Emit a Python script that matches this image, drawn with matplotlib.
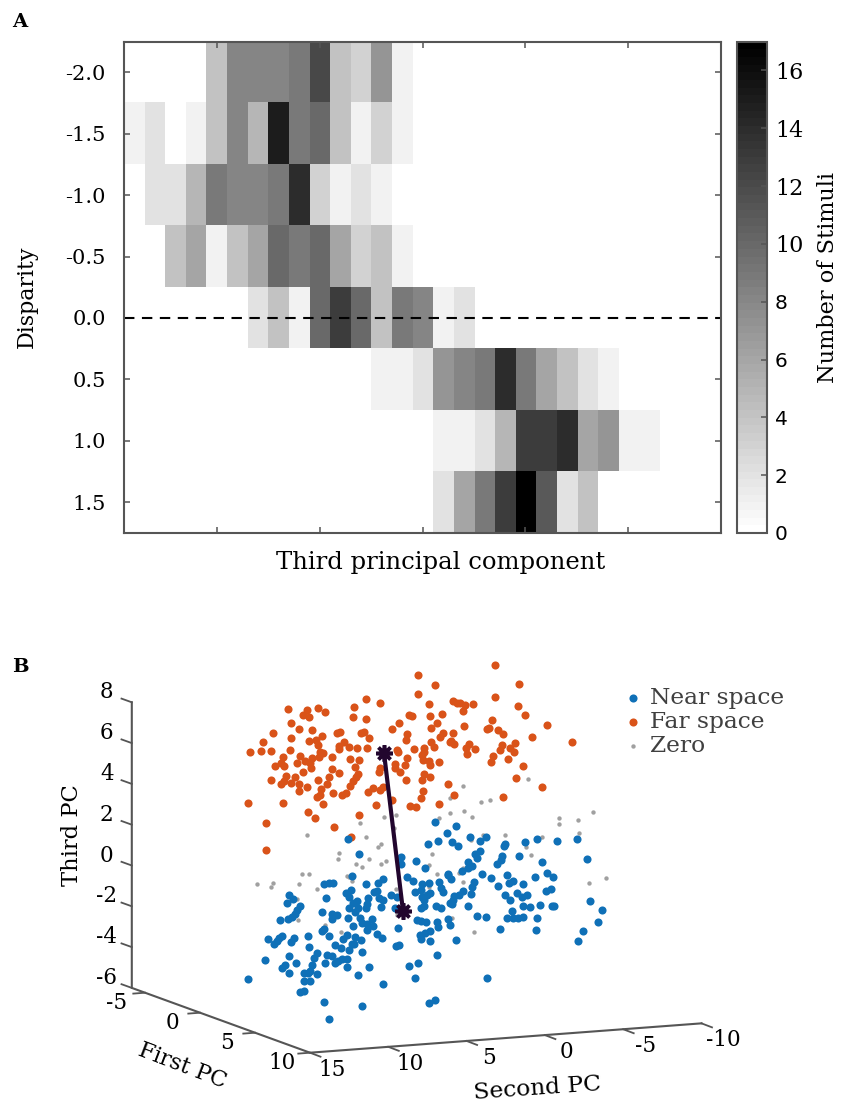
import matplotlib
matplotlib.use('Agg')
import matplotlib.pyplot as plt
import numpy as np

SERIF = 'DejaVu Serif'
LINE = '#555555'

# Panel A: number of stimuli per (disparity, third PC bin)
disparity = [-2.0, -1.5, -1.0, -0.5, 0.0, 0.5, 1.0, 1.5]
n_stimuli = [
    [0, 0, 0, 0, 4, 8, 8, 8, 9, 12, 4, 3, 7, 1, 0, 0, 0, 0, 0, 0, 0, 0, 0, 0, 0, 0, 0, 0, 0],
    [1, 2, 0, 1, 4, 8, 5, 15, 9, 10, 4, 1, 3, 1, 0, 0, 0, 0, 0, 0, 0, 0, 0, 0, 0, 0, 0, 0, 0],
    [0, 2, 2, 5, 9, 8, 8, 9, 14, 3, 1, 2, 1, 0, 0, 0, 0, 0, 0, 0, 0, 0, 0, 0, 0, 0, 0, 0, 0],
    [0, 0, 4, 6, 1, 4, 6, 10, 9, 10, 6, 3, 4, 1, 0, 0, 0, 0, 0, 0, 0, 0, 0, 0, 0, 0, 0, 0, 0],
    [0, 0, 0, 0, 0, 0, 2, 4, 1, 10, 13, 10, 4, 9, 8, 1, 2, 0, 0, 0, 0, 0, 0, 0, 0, 0, 0, 0, 0],
    [0, 0, 0, 0, 0, 0, 0, 0, 0, 0, 0, 0, 1, 1, 2, 7, 8, 9, 14, 9, 6, 4, 2, 1, 0, 0, 0, 0, 0],
    [0, 0, 0, 0, 0, 0, 0, 0, 0, 0, 0, 0, 0, 0, 0, 1, 1, 2, 5, 13, 13, 14, 6, 7, 1, 1, 0, 0, 0],
    [0, 0, 0, 0, 0, 0, 0, 0, 0, 0, 0, 0, 0, 0, 0, 2, 6, 9, 13, 17, 11, 2, 4, 0, 0, 0, 0, 0, 0],
]
cbar_ticks = [0, 2, 4, 6, 8, 10, 12, 14, 16]

# Panel B: axis ticks of the 3D box
first_ticks = [-5, 0, 5, 10]
second_ticks = [15, 10, 5, 0, -5, -10]
third_ticks = [-6, -4, -2, 0, 2, 4, 6, 8]

# Panel B: points as they land on the page after the 3D view (px)
far_pts = [
    (418,675),(435,685),(418,694),(366,699),(380,703),(429,704),(354,707),(288,709),(318,708),(307,710),
    (325,712),(303,715),(309,717),(353,717),(366,719),(409,715),(412,716),(430,716),(442,714),(291,723),
    (399,723),(437,723),(299,729),(392,729),(431,728),(273,733),(312,730),(337,733),(340,732),(361,733),
    (364,732),(407,734),(443,733),(440,737),(291,738),(322,736),(369,738),(406,740),(263,742),(309,741),
    (316,740),(318,745),(344,742),(431,742),(450,742),(339,746),(349,747),(367,748),(357,748),(339,749),
    (434,747),(424,748),(414,749),(250,752),(261,751),(271,751),(290,750),(320,752),(323,753),(397,750),
    (398,752),(422,755),(424,752),(332,757),(319,757),(300,756),(283,757),(312,758),(350,759),(359,760),
    (407,758),(423,760),(429,761),(439,762),(281,763),(275,766),(284,766),(297,763),(305,761),(310,763),
    (311,768),(405,765),(395,764),(430,765),(332,769),(355,767),(380,768),(395,768),(303,772),(339,773),
    (358,774),(379,772),(400,772),(424,774),(286,776),(295,777),(329,777),(356,777),(430,777),(271,780),
    (318,780),(406,780),(422,780),(284,781),(281,784),(291,783),(353,781),(299,784),(327,784),(350,786),
    (307,787),(448,784),(321,789),(373,788),(383,787),(380,790),(368,792),(299,791),(423,791),(333,793),
    (346,793),(342,795),(320,795),(317,797),(421,798),(248,803),(283,803),(323,804),(392,800),(376,805),
    (410,806),(416,807),(439,804),(308,812),(315,818),(359,815),(266,823),(334,827),(351,837),(266,850),
    (495,665),(519,684),(495,697),(453,701),(457,703),(460,703),(465,705),(473,704),(518,706),(463,711),
    (525,715),(492,720),(547,725),(464,726),(487,729),(489,728),(498,730),(503,734),(453,733),(532,737),
    (572,742),(515,743),(451,741),(454,744),(469,744),(466,748),(475,749),(502,745),(510,748),(500,750),
    (514,752),(467,754),(493,756),(491,762),(508,759),(523,766),(516,778),(542,787),(454,795),(503,797),
]
zero_pts = [
    (384,817),(396,815),(360,823),(307,835),(366,837),(381,844),(378,847),(439,818),(450,798),(450,813),
    (394,828),(528,779),(463,786),(490,800),(481,802),(464,811),(472,817),(593,812),(559,818),(559,824),
    (578,820),(579,833),(483,835),(505,835),(542,837),(471,840),(526,847),(339,853),(338,859),(356,864),
    (362,867),(369,859),(381,864),(386,861),(432,854),(429,865),(437,874),(302,874),(309,874),(273,883),
    (271,887),(257,884),(299,884),(317,889),(347,876),(349,877),(352,881),(297,899),(298,920),(325,925),
    (341,932),(396,889),(429,887),(397,915),(531,855),(459,873),(463,868),(463,882),(606,878),(589,883),
    (452,918),(474,932),
]
near_pts = [
    (348,839),(435,822),(447,833),(428,844),(438,841),(359,854),(401,857),(416,861),(425,868),(401,864),
    (352,876),(448,875),(407,877),(413,881),(383,879),(378,883),(366,884),(324,884),(329,883),(333,883),
    (429,883),(422,884),(439,882),(441,888),(443,892),(351,890),(346,893),(377,891),(374,892),(391,895),
    (415,892),(421,890),(430,893),(427,895),(289,895),(293,899),(326,898),(349,897),(368,898),(379,898),
    (383,900),(397,897),(422,897),(424,900),(357,901),(353,903),(287,903),(367,904),(366,908),(381,907),
    (424,906),(421,908),(436,906),(441,908),(450,903),(300,906),(297,910),(349,908),(358,908),(322,912),
    (295,914),(332,914),(337,915),(355,912),(395,908),(348,918),(332,919),(292,917),(288,919),(280,920),
    (360,918),(372,919),(362,923),(417,920),(421,921),(426,922),(437,922),(448,919),(438,927),(367,924),
    (373,926),(353,926),(398,928),(367,930),(430,931),(425,933),(420,935),(421,939),(430,941),(322,931),
    (324,929),(377,934),(382,938),(329,936),(308,936),(347,935),(355,937),(361,940),(343,939),(282,936),
    (279,938),(268,939),(277,941),(274,944),(294,938),(291,942),(309,947),(335,945),(341,948),(352,944),
    (349,950),(354,944),(396,946),(399,945),(362,952),(437,955),(317,953),(327,955),(332,956),(314,958),
    (289,956),(347,959),(342,959),(338,961),(335,963),(325,963),(265,960),(296,963),(312,965),(285,965),
    (282,968),(418,963),(409,966),(347,967),(369,967),(310,971),(289,973),(304,973),(317,974),(358,975),
    (415,978),(308,973),(248,979),(304,981),(310,981),(383,984),(300,992),(304,991),(324,1002),(362,1006),
    (429,1003),(435,1000),(329,1019),(456,826),(470,837),(486,837),(480,841),(452,842),(458,846),(505,844),
    (504,846),(525,842),(537,839),(557,841),(577,839),(480,851),(475,854),(477,858),(502,856),(501,860),
    (497,864),(519,856),(542,862),(587,859),(468,862),(472,866),(468,868),(462,871),(482,874),(507,875),
    (491,878),(448,874),(451,879),(547,873),(553,877),(535,877),(474,882),(472,887),(513,881),(509,883),
    (523,884),(498,886),(551,889),(546,891),(517,893),(527,895),(522,897),(505,895),(510,900),(463,891),
    (459,895),(454,896),(471,894),(453,900),(452,904),(590,901),(468,906),(523,906),(530,907),(540,905),
    (552,906),(554,906),(602,910),(512,911),(477,916),(486,917),(507,918),(513,918),(518,918),(523,917),
    (537,918),(598,922),(450,925),(500,929),(536,930),(583,931),(578,941),(456,940),(487,978),
]
mean_x = [384, 403]
mean_y = [753, 911]


def project(first, second, third):
    """ Linear page position (px) of a point of the 3D box """
    x = 310 + (first - 10) * 11 - (second - 15) * 15.66
    y = 1052.7 + (first - 10) * 4 + (second - 15) * 1.174 - (third + 6) * 20.4
    return x, y


fig = plt.figure(figsize=(8.42, 11.06), dpi=100)

# Panel A
ax = fig.add_axes([124 / 842, 1 - 533 / 1106, 597 / 842, 491.5 / 1106])
im = ax.imshow(n_stimuli, cmap=plt.get_cmap('gray_r', 64), vmin=0, vmax=17, aspect='auto',
               interpolation='nearest', extent=[-0.5, 28.5, 1.75, -2.25])
ax.axhline(0, color='black', lw=1.5, dashes=(5, 3.6))
ax.set_xticks([4, 9, 14, 19, 24])
ax.set_xticklabels([])
ax.set_yticks(disparity)
ax.set_yticklabels(['{:.1f}'.format(d) for d in disparity], fontname=SERIF, fontsize=15)
ax.tick_params(axis='both', direction='in', top=True, right=True, length=4.5, width=1.1,
               color=LINE, pad=13)
for s in ax.spines.values():
    s.set_color(LINE)
    s.set_linewidth(1.5)
fig.text(27 / 842, 1 - 297 / 1106, 'Disparity', rotation=90, ha='center', va='center',
         fontname=SERIF, fontsize=15.9)
fig.text(441 / 842, 1 - 563 / 1106, 'Third principal component', ha='center', va='center',
         fontname=SERIF, fontsize=17.5)

# Colorbar
cax = fig.add_axes([736.5 / 842, 1 - 533 / 1106, 30 / 842, 491.5 / 1106])
cb = fig.colorbar(im, cax=cax)
cb.set_ticks(cbar_ticks)
cb.outline.set_edgecolor(LINE)
cb.outline.set_linewidth(1.5)
cax.tick_params(direction='in', length=4.5, width=1.1, color=LINE, pad=6)
for t, v in zip(cax.get_yticklabels(), cbar_ticks):
    if v >= 10:
        t.set_fontname(SERIF)
        t.set_fontsize(16)
    else:
        t.set_fontname('DejaVu Sans')
        t.set_fontsize(14.5)
fig.text(828 / 842, 1 - 277 / 1106, 'Number of Stimuli', rotation=90, ha='center', va='center',
         fontname=SERIF, fontsize=16.2)

# Panel B, a 2D axes in page pixels with the box projected onto it
ax3 = fig.add_axes([0, 0, 1, 466 / 1106])
ax3.set_xlim(0, 842)
ax3.set_ylim(1106, 640)
ax3.axis('off')

x0, y0 = project(-6.2, 15, -6)
xc, yc = project(10, 15, -6)
x1, y1 = project(10, -10, -6)
x2, y2 = project(-6.2, 15, 8)
ax3.plot([x2, x0, xc, x1], [y2, y0, yc, y1], color=LINE, lw=1.5, solid_joinstyle='miter')

for v in third_ticks:
    x, y = project(-6.2, 15, v)
    ax3.plot([x, x - 10.3], [y, y - 3.7], color=LINE, lw=1.3)
    ax3.text(x - 25, y - 10, str(v), ha='center', va='center', fontname=SERIF, fontsize=15.5)
for v in first_ticks:
    x, y = project(v, 15, -6)
    ax3.plot([x, x - 11.7], [y, y + 0.9], color=LINE, lw=1.3)
    ax3.text(x - 28, y + 10, str(v), ha='center', va='center', fontname=SERIF, fontsize=15.5)
for v in second_ticks:
    x, y = project(10, v, -6)
    ax3.plot([x, x + 10.5], [y, y + 4], color=LINE, lw=1.3)
    ax3.text(x + 22, y + 17, str(v), ha='center', va='center', fontname=SERIF, fontsize=15.5)

ax3.text(72, 835, 'Third PC', rotation=90, ha='center', va='center', fontname=SERIF, fontsize=16.3)
ax3.text(182, 1066, 'First PC', rotation=-21, ha='center', va='center', fontname=SERIF,
         fontsize=16, rotation_mode='anchor')
ax3.text(537, 1089, 'Second PC', rotation=4, ha='center', va='center', fontname=SERIF,
         fontsize=16.8, rotation_mode='anchor')

ax3.scatter(*zip(*zero_pts), s=10, color='#A0A0A0', linewidths=0, zorder=2)
ax3.scatter(*zip(*far_pts), s=34, color='#D95319', linewidths=0, zorder=3)
ax3.scatter(*zip(*near_pts), s=34, color='#0F70B7', linewidths=0, zorder=4)
ax3.plot(mean_x, mean_y, color='#22062E', lw=3, zorder=5, marker=(8, 2, 0), ms=12, mew=2.6)

# Legend
legend_labels = ['Near space', 'Far space', 'Zero']
legend_colors = ['#0F70B7', '#D95319', '#A0A0A0']
legend_sizes = [34, 34, 10]
for i in range(3):
    ax3.scatter([633], [698 + 24 * i], s=legend_sizes[i], color=legend_colors[i], linewidths=0)
    ax3.text(650, 698 + 24 * i, legend_labels[i], va='center', fontname=SERIF, fontsize=16.8,
             color='#404040')

fig.text(12 / 842, 1 - 22 / 1106, 'A', fontname=SERIF, fontweight='bold', fontsize=14, va='center')
fig.text(12 / 842, 1 - 667 / 1106, 'B', fontname=SERIF, fontweight='bold', fontsize=14, va='center')

fig.savefig('out.png', dpi=100)
